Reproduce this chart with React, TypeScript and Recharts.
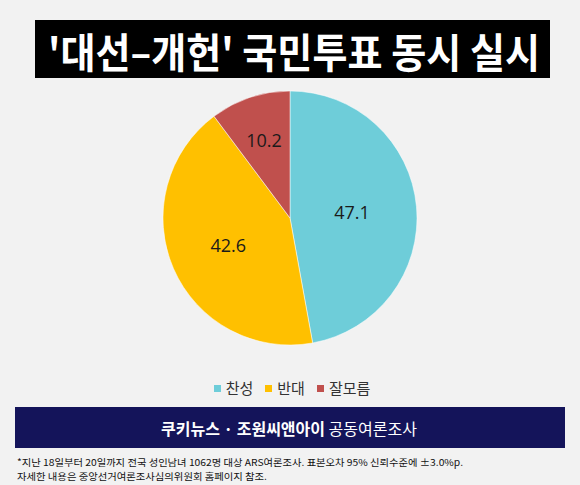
import React from "react";
import { PieChart, Pie, Cell, Legend } from "recharts";

const categories = ["찬성", "반대", "잘모름"];
const values = [47.1, 42.6, 10.2];
const colors = ["#6ECDD9", "#FFC000", "#C0504D"];
const labelRadius = [0.49, 0.53, 0.65];

const titleText = "'대선–개헌' 국민투표 동시 실시";
const sourceBold = "쿠키뉴스 · 조원씨앤아이";
const sourceRegular = " 공동여론조사";
const note1 = "*지난 18일부터 20일까지 전국 성인남녀 1062명 대상 ARS여론조사. 표본오차 95% 신뢰수준에 ±3.0%p.";
const note2 = "자세한 내용은 중앙선거여론조사심의위원회 홈페이지 참조.";

const data = categories.map((name, i) => ({ name, value: values[i] }));

const KR = "'Noto Sans CJK KR', 'Noto Sans', sans-serif";
const RAD = Math.PI / 180;

const renderLabel = (props: any) => {
  const { cx, cy, midAngle, outerRadius, index, value } = props;
  const r = outerRadius * labelRadius[index];
  const x = cx + r * Math.cos(-midAngle * RAD);
  const y = cy + r * Math.sin(-midAngle * RAD);
  return (
    <text
      x={x}
      y={y}
      textAnchor="middle"
      dominantBaseline="central"
      fill="#1a1a1a"
      fontSize={18}
      fontFamily="'Open Sans', 'Noto Sans', sans-serif"
    >
      {value.toFixed(1)}
    </text>
  );
};

const renderLegend = () => (
  <div
    style={{
      display: "flex",
      justifyContent: "center",
      alignItems: "center",
      width: 580,
      paddingLeft: 4,
      boxSizing: "border-box",
    }}
  >
    {categories.map((c, i) => (
      <div
        key={c}
        style={{ display: "flex", alignItems: "center", marginRight: i < categories.length - 1 ? 12 : 0 }}
      >
        <span
          style={{ display: "inline-block", width: 7, height: 7, background: colors[i], marginRight: 5 }}
        />
        <span style={{ color: "#333333", fontSize: 15, fontFamily: KR, lineHeight: "20px" }}>{c}</span>
      </div>
    ))}
  </div>
);

export default function App() {
  return (
    <div
      style={{
        position: "absolute",
        left: 0,
        top: 0,
        width: 580,
        height: 485,
        background: "#F2F2F2",
        overflow: "hidden",
      }}
    >
      <svg
        width={580}
        height={485}
        style={{ position: "absolute", left: 0, top: 0 }}
      >
        <rect x={35} y={20} width={515} height={58} fill="#000000" />
        <text
          x={294}
          y={50}
          textAnchor="middle"
          dominantBaseline="central"
          fill="#ffffff"
          fontSize={41}
          fontWeight={700}
          fontFamily={KR}
          textLength={492}
          lengthAdjust="spacingAndGlyphs"
        >
          {titleText}
        </text>
        <rect x={15} y={407} width={550} height={41} fill="#14145A" />
        <text
          x={289}
          y={428}
          textAnchor="middle"
          dominantBaseline="central"
          fill="#ffffff"
          fontSize={16}
          fontFamily={KR}
        >
          <tspan fontWeight={700}>{sourceBold}</tspan>
          <tspan>{sourceRegular}</tspan>
        </text>
        <text
          x={17}
          y={462}
          dominantBaseline="central"
          fill="#111111"
          fontSize={9.5}
          fontFamily={KR}
          textLength={446}
          lengthAdjust="spacingAndGlyphs"
        >
          {note1}
        </text>
        <text
          x={17}
          y={476}
          dominantBaseline="central"
          fill="#111111"
          fontSize={9.5}
          fontFamily={KR}
          textLength={250}
          lengthAdjust="spacingAndGlyphs"
        >
          {note2}
        </text>
      </svg>
      <div style={{ position: "absolute", left: 0, top: 0 }}>
        <PieChart width={580} height={485} margin={{ top: 0, right: 0, bottom: 0, left: 0 }}>
          <Pie
            data={data}
            dataKey="value"
            nameKey="name"
            cx={290}
            cy={218}
            outerRadius={127}
            startAngle={90}
            endAngle={-270}
            stroke="#ffffff"
            strokeWidth={0.5}
            label={renderLabel}
            labelLine={false}
            isAnimationActive={false}
          >
            {data.map((d, i) => (
              <Cell key={d.name} fill={colors[i]} />
            ))}
          </Pie>
          <Legend
            verticalAlign="bottom"
            align="center"
            content={renderLegend}
            wrapperStyle={{ top: 378, left: 0, width: 580, bottom: "auto" }}
          />
        </PieChart>
      </div>
    </div>
  );
}
